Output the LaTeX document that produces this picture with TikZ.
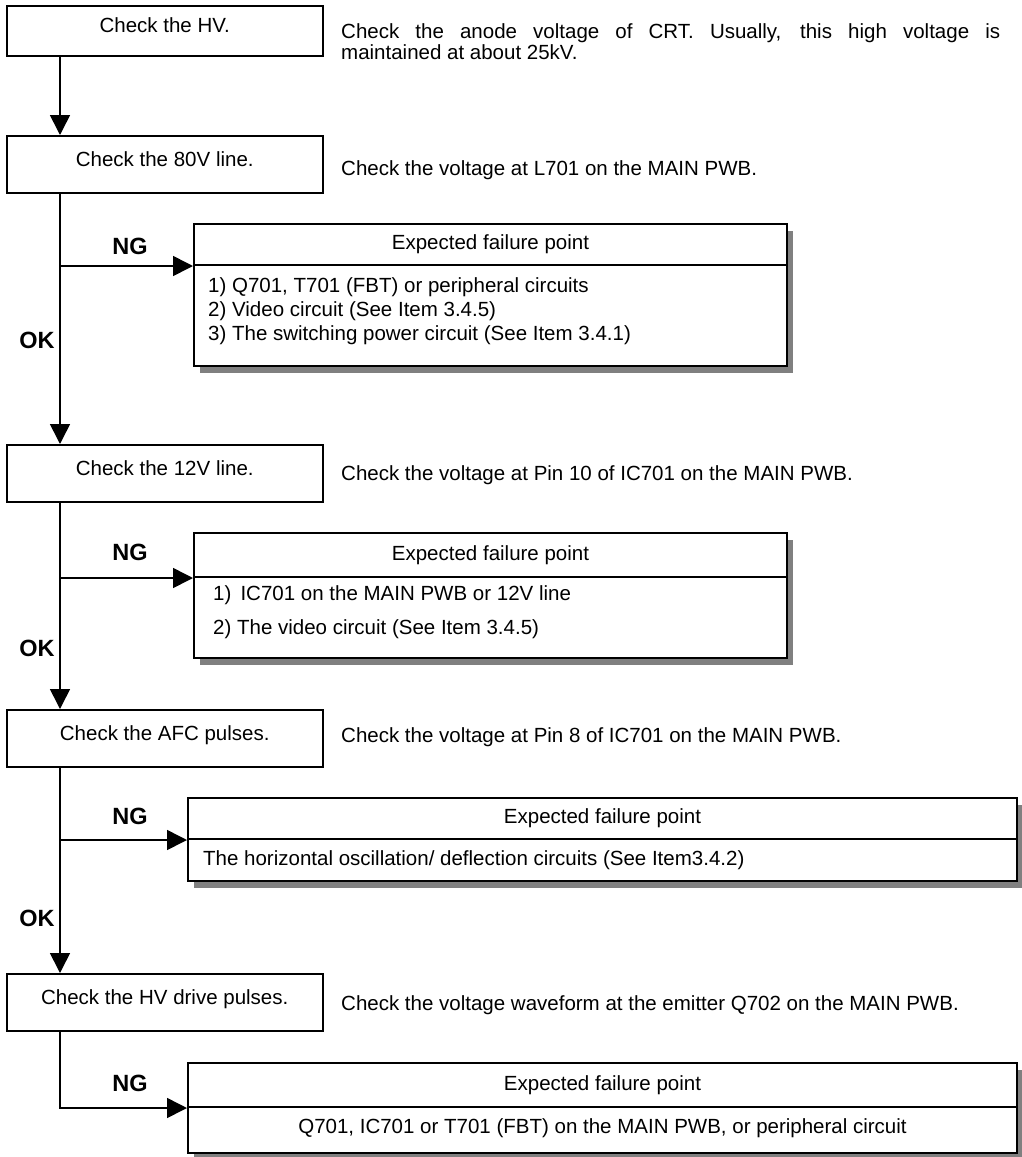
\documentclass[tikz,border=0pt]{standalone}
\usepackage{fontspec}
\setmainfont{Liberation Sans}
\usetikzlibrary{arrows.meta,positioning,shadows}
\newcommand{\flowfont}{\fontsize{20.5}{24}\selectfont}
\newcommand{\tagfont}{\fontsize{23.5}{26}\selectfont\bfseries}
\tikzstyle{check}=[rectangle, draw, line width=1.5pt, fill=white, anchor=north west,
  minimum width=316pt, minimum height=57pt, inner sep=0pt, font=\flowfont,
  text height=14pt, text depth=10pt]
\tikzstyle{failframe}=[rectangle, draw, line width=2pt, fill=white, anchor=north west,
  inner sep=0pt, drop shadow={shadow xshift=6pt, shadow yshift=-7pt, fill=gray, opacity=1}]
\tikzstyle{failhead}=[rectangle, draw, line width=2pt, anchor=north west,
  inner sep=0pt, font=\flowfont]
\tikzstyle{note}=[anchor=west, inner sep=0pt, font=\flowfont]
\tikzstyle{items}=[anchor=north west, inner sep=0pt, font=\flowfont, align=left]
\tikzstyle{tag}=[inner sep=0pt, font=\tagfont]
\tikzstyle{flow}=[-{Triangle[length=20pt,width=20pt]}, line width=1.6pt]

\begin{document}
\begin{tikzpicture}[x=1pt,y=-1pt]
    \useasboundingbox (0,0) rectangle (1022,1157);
    \coordinate (trunk) at (60,0);

    % checks down the left side
    \node[check, minimum height=50pt] (hv) at (6,5) {Check the HV.};
    \node[check] (l80) at (6,135) {Check the 80V line.};
    \node[check] (l12) at (6,444) {Check the 12V line.};
    \node[check] (afc) at (6,709) {Check the AFC pulses.};
    \node[check] (drv) at (6,973) {Check the HV drive pulses.};

    % notes beside them
    \node[note, anchor=north west, text width=659pt, align=justify,
      font=\fontsize{20.5}{21.5}\selectfont] (hvnote) at (341,23)
      {Check the anode voltage of CRT. Usually, this high voltage is\linebreak maintained at about 25kV.};
    \node[note] (l80note) at (341,170) {Check the voltage at L701 on the MAIN PWB.};
    \node[note] (l12note) at (341,475) {Check the voltage at Pin 10 of IC701 on the MAIN PWB.};
    \node[note] (afcnote) at (341,737) {Check the voltage at Pin 8 of IC701 on the MAIN PWB.};
    \node[note] (drvnote) at (341,1005) {Check the voltage waveform at the emitter Q702 on the MAIN PWB.};

    % expected failure points
    \node[failframe, minimum width=593pt, minimum height=142pt] (fb1) at (193,223) {};
    \node[failhead, minimum width=593pt, minimum height=41pt] (fh1) at (fb1.north west) {Expected failure point};
    \node[items] (fi1) at ([xshift=15pt,yshift=-11pt]fh1.south west)
      {1) Q701, T701 (FBT) or peripheral circuits\\ 2) Video circuit (See Item 3.4.5)\\
       3) The switching power circuit (See Item 3.4.1)};

    \node[failframe, minimum width=593pt, minimum height=125pt] (fb2) at (193,532) {};
    \node[failhead, minimum width=593pt, minimum height=44pt] (fh2) at (fb2.north west) {Expected failure point};
    \node[items] (fi2) at ([xshift=20pt,yshift=-7pt]fh2.south west)
      {1)\, IC701 on the MAIN PWB or 12V line\\[10pt] 2) The video circuit (See Item 3.4.5)};

    \node[failframe, minimum width=829pt, minimum height=83pt] (fb3) at (187,797) {};
    \node[failhead, minimum width=829pt, minimum height=41pt] (fh3) at (fb3.north west) {Expected failure point};
    \node[items, anchor=west] (fi3) at ([xshift=16pt,yshift=-20pt]fh3.south west)
      {The horizontal oscillation/ deflection circuits (See Item3.4.2)};

    \node[failframe, minimum width=829pt, minimum height=90pt] (fb4) at (187,1062) {};
    \node[failhead, minimum width=829pt, minimum height=44pt] (fh4) at (fb4.north west) {Expected failure point};
    \node[items, anchor=center] (fi4) at ([yshift=-20pt]fh4.south)
      {Q701, IC701 or T701 (FBT) on the MAIN PWB, or peripheral circuit};

    % NG / OK labels
    \node[tag] (ng1) at (130,246) {NG};
    \node[tag] (ok1) at (37,340) {OK};
    \node[tag] (ng2) at (130,552) {NG};
    \node[tag] (ok2) at (37,648) {OK};
    \node[tag] (ng3) at (130,816) {NG};
    \node[tag] (ok3) at (37,918) {OK};
    \node[tag] (ng4) at (130,1083) {NG};

    \draw[flow] (hv.south -| trunk) -- (l80.north -| trunk);
    \draw[flow] (l80.south -| trunk) -- (l12.north -| trunk);
    \draw[flow] (l12.south -| trunk) -- (afc.north -| trunk);
    \draw[flow] (afc.south -| trunk) -- (drv.north -| trunk);
    \draw[flow] (l80.south -| trunk) |- (fh1.south west);
    \draw[flow] (l12.south -| trunk) |- (fh2.south west);
    \draw[flow] (afc.south -| trunk) |- (fh3.south west);
    \draw[flow] (drv.south -| trunk) |- (fh4.south west);

  \end{tikzpicture}
\end{document}
